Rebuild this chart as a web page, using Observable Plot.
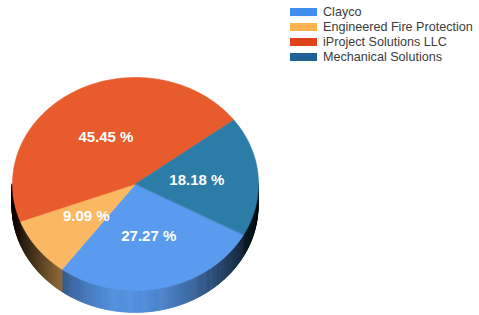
<!DOCTYPE html>
<html><head><meta charset="utf-8">
<script src="https://cdn.jsdelivr.net/npm/d3@7"></script>
<script src="https://cdn.jsdelivr.net/npm/@observablehq/plot@0.6"></script>
<style>
body{margin:0;background:#fff;}
#wrap{position:relative;width:479px;height:315px;overflow:hidden;}
#chart{position:absolute;left:0;top:0;}
#legend{position:absolute;left:290px;top:4.5px;font:12.6px Arial,"Liberation Sans",sans-serif;color:#3c3c3c;}
.row{display:flex;align-items:center;height:15px;white-space:nowrap;}
.sw{width:27px;height:8px;margin-right:6px;flex:none;}
</style></head><body>
<div id="wrap"><div id="chart"></div><div id="legend"></div></div>
<script>
const categories = ["Clayco", "Engineered Fire Protection", "iProject Solutions LLC", "Mechanical Solutions"];
const values = [27.27, 9.09, 45.45, 18.18];

const faceColors = ["#5a9bef", "#fbb862", "#e75b2c", "#2b7ca6"];
const legendColors = ["#3f8ef0", "#fdb450", "#e0421a", "#1d6398"];
const startAngle = 28.5; // degrees clockwise from 3 o'clock
const depth = 0.21;

const total = d3.sum(values);
let acc = startAngle;
const slices = categories.map((c, i) => {
  const a0 = acc, a1 = acc + values[i] / total * 360;
  acc = a1;
  return {c, i, v: values[i], a0, a1};
});
const rad = d => d * Math.PI / 180;

// top faces
const facePts = [];
slices.forEach(s => {
  facePts.push({c: s.c, x: 0, y: 0, fill: faceColors[s.i]});
  const n = Math.ceil((s.a1 - s.a0) * 2);
  for (let k = 0; k <= n; k++) {
    const t = s.a0 + (s.a1 - s.a0) * k / n;
    facePts.push({c: s.c, x: Math.cos(rad(t)), y: Math.sin(rad(t)), fill: faceColors[s.i]});
  }
});

function sliceAt(t) {
  return slices.find(s => {
    const d = (((t - s.a0) % 360) + 360) % 360;
    return d < s.a1 - s.a0;
  }) || slices[0];
}
function shade(t) {
  const w = t >= 95 ? 45 : 55;
  return 0.9 * Math.exp(-Math.pow((t - 95) / w, 2)) + 0.03;
}

// side strips
const sidePts = [];
const step = 0.5;
for (let t = 0, id = 0; t < 180; t += step, id++) {
  const mid = t + step / 2;
  const s = sliceAt(mid);
  const col = d3.interpolateRgb("#000", faceColors[s.i])(shade(mid));
  for (const u of [t, Math.min(180, t + step + 0.15)]) {
    sidePts.push({id, x: Math.cos(rad(u)), y1: Math.sin(rad(u)), y2: Math.sin(rad(u)) + depth, fill: col});
  }
}

const chart = Plot.plot({
  width: 479,
  height: 315,
  margin: 0,
  x: {domain: [-1, 1], range: [12, 258], axis: null},
  y: {domain: [-1, 1], range: [77, 290], axis: null},
  color: {type: "identity"},
  style: {background: "transparent"},
  marks: [
    Plot.areaY(sidePts, {x: "x", y1: "y1", y2: "y2", z: "id", fill: "fill", stroke: "fill", strokeWidth: 0.6}),
    Plot.line(facePts, {x: "x", y: "y", z: "c", fill: "fill", stroke: "fill", strokeWidth: 0.6, curve: "linear-closed"}),
    Plot.text(slices, {
      x: d => 0.5 * Math.cos(rad((d.a0 + d.a1) / 2)),
      y: d => 0.5 * Math.sin(rad((d.a0 + d.a1) / 2)),
      text: d => d.v.toFixed(2) + " %",
      fill: "white",
      fontSize: 15,
      fontWeight: "bold",
      fontFamily: "Arial, 'Liberation Sans', sans-serif"
    })
  ]
});
document.getElementById("chart").appendChild(chart);

const legend = d3.select("#legend");
categories.forEach((c, i) => {
  const row = legend.append("div").attr("class", "row");
  row.append("div").attr("class", "sw").style("background", legendColors[i]);
  row.append("span").text(c);
});
</script>
</body></html>
